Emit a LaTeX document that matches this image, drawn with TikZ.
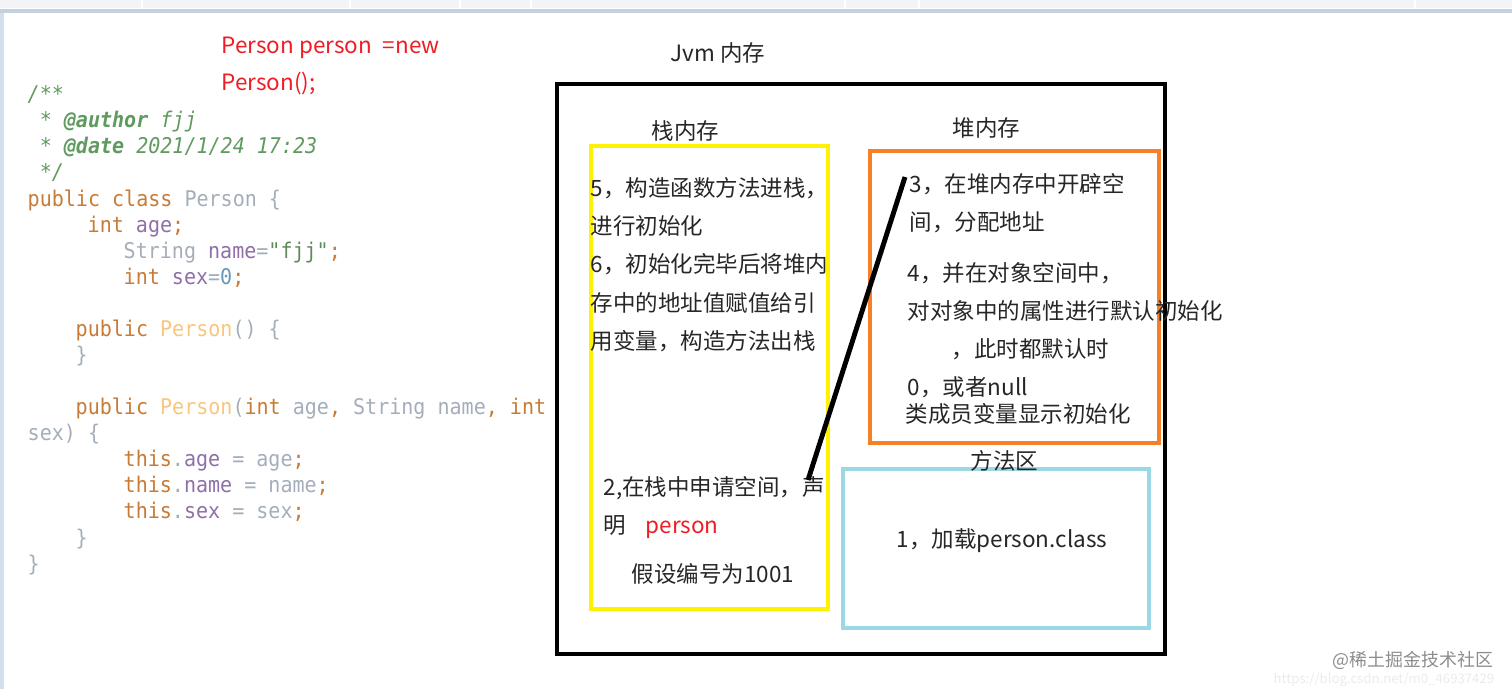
\documentclass[tikz,border=0pt]{standalone}
\usepackage{fontspec}
\setmainfont{Noto Sans CJK SC}
\newfontfamily\codefont[FakeStretch=0.927]{DejaVu Sans Mono}
\definecolor{kwcol}{HTML}{C77B35}
\definecolor{doccol}{HTML}{5F9A5F}
\definecolor{fieldcol}{HTML}{8F6FA8}
\definecolor{plaincol}{HTML}{A4AEBB}
\definecolor{ctorcol}{HTML}{F8C67E}
\definecolor{numcol}{HTML}{6897BB}
\definecolor{strcol}{HTML}{5F8A5A}
\definecolor{redtxt}{HTML}{EE1C25}
\definecolor{stackcol}{HTML}{FFF200}
\definecolor{heapcol}{HTML}{F58027}
\definecolor{methodcol}{HTML}{9AD8E6}
\definecolor{barcol}{HTML}{F3F4F7}
\definecolor{bandcol}{HTML}{C3D1DF}
\definecolor{edgecol}{HTML}{D3DFEC}
\tikzset{
  codeline/.style={anchor=west, inner sep=0pt, yshift=-0.25mm, font=\codefont\fontsize{6.15}{7}\selectfont, text=plaincol, text height=1.6mm, text depth=.5mm},
  note/.style={anchor=west, inner sep=0pt, yshift=-0.1mm, font=\fontsize{6.4}{7.5}\selectfont, text=black!85, text height=1.9mm, text depth=.5mm},
  memory/.style={draw, line width=1.15pt, inner sep=0pt}
}
\newcommand{\kw}[1]{\textcolor{kwcol}{#1}}
\newcommand{\fd}[1]{\textcolor{fieldcol}{#1}}
\begin{document}
\begin{tikzpicture}
    \useasboundingbox (0,0) rectangle (15.12,6.89);

    % Window edges
    \fill[barcol] (0,6.81) rectangle (15.12,6.89);
    \fill[bandcol] (0,6.76) rectangle (15.12,6.80);
    \fill[edgecol] (0,0) rectangle (0.04,6.76);
    \draw[white, line width=.3pt] (1.42,6.81) -- (1.42,6.89) (3.50,6.81) -- (3.50,6.89) (4.60,6.81) -- (4.60,6.89) (5.31,6.81) -- (5.31,6.89) (8.45,6.81) -- (8.45,6.89) (9.19,6.81) -- (9.19,6.89) (14.15,6.81) -- (14.15,6.89);

    % Memory boxes
    \node[memory, draw=black, minimum width=6.08cm, minimum height=5.70cm] (jvmBox) at (8.61,3.20) {};
    \node[memory, draw=stackcol, minimum width=2.37cm, minimum height=4.63cm] (stackBox) at (7.095,3.115) {};
    \node[memory, draw=heapcol, minimum width=2.89cm, minimum height=2.92cm] (heapBox) at (10.145,3.92) {};
    \node[memory, draw=methodcol, minimum width=3.06cm, minimum height=1.59cm] (methodBox) at (9.96,1.405) {};

    % Statement
    \node[note, text=redtxt] (stmtA) at (2.21,6.44) {Person person\hspace{1.6pt} =new};
    \node[note, text=redtxt] (stmtB) at (2.21,6.07) {Person();};

    % Titles
    \node[note] (jvmTitle) at (6.70,6.36) {Jvm 内存};
    \node[note] (stackTitle) at (6.51,5.58) {栈内存};
    \node[note] (heapTitle) at (9.52,5.61) {堆内存};
    \node[note] (methodTitle) at (9.70,2.28) {方法区};

    % Stack memory
    \node[note] (stackA) at (5.90,5.01) {5，构造函数方法进栈，};
    \node[note] (stackB) at (5.90,4.63) {进行初始化};
    \node[note] (stackC) at (5.90,4.25) {6，初始化完毕后将堆内};
    \node[note] (stackD) at (5.90,3.86) {存中的地址值赋值给引};
    \node[note] (stackE) at (5.90,3.48) {用变量，构造方法出栈};
    \node[note] (stackF) at (6.03,2.02) {2,在栈中申请空间，声};
    \node[note] (stackG) at (6.03,1.64) {明};
    \node[note, text=redtxt] (stackName) at (6.45,1.64) {person};
    \node[note] (stackH) at (6.31,1.15) {假设编号为1001};

    % Heap memory
    \node[note] (heapA) at (9.09,5.05) {3，在堆内存中开辟空};
    \node[note] (heapB) at (9.09,4.67) {间，分配地址};
    \node[note] (heapC) at (9.07,4.16) {4，并在对象空间中，};
    \node[note] (heapD) at (9.07,3.78) {对对象中的属性进行默认初始化};
    \node[note] (heapE) at (9.51,3.40) {，此时都默认时};
    \node[note] (heapF) at (9.07,3.02) {0，或者null};
    \node[note] (heapG) at (9.05,2.75) {类成员变量显示初始化};

    % Method area
    \node[note] (methodA) at (8.96,1.50) {1，加载person.class};

    % Reference from stack to heap
    \coordinate (refStack) at (8.08,2.09);
    \coordinate (refHeap) at (9.05,5.12);
    \draw[line width=1.4pt] (refStack) -- (refHeap);

    % Source code
    \node[codeline, text=doccol] (codeA) at (0.27,5.96) {\itshape /**};
    \node[codeline, text=doccol] (codeB) at (0.27,5.70) {\itshape\ * \textbf{@author} fjj};
    \node[codeline, text=doccol] (codeC) at (0.27,5.44) {\itshape\ * \textbf{@date} 2021/1/24 17:23};
    \node[codeline, text=doccol] (codeD) at (0.27,5.18) {\itshape\ */};
    \node[codeline] (codeE) at (0.27,4.91) {\kw{public class} Person \{};
    \node[codeline] (codeF) at (0.87,4.65) {\kw{int} \fd{age}\kw{;}};
    \node[codeline] (codeG) at (1.23,4.39) {String \fd{name}=\textcolor{strcol}{"fjj"}\kw{;}};
    \node[codeline] (codeH) at (1.23,4.13) {\kw{int} \fd{sex}=\textcolor{numcol}{0}\kw{;}};
    \node[codeline] (codeI) at (0.75,3.61) {\kw{public} \textcolor{ctorcol}{Person}() \{};
    \node[codeline] (codeJ) at (0.75,3.35) {\}};
    \node[codeline] (codeK) at (0.75,2.83) {\kw{public} \textcolor{ctorcol}{Person}(\kw{int} age\kw{,} String name\kw{,} \kw{int}};
    \node[codeline] (codeL) at (0.27,2.57) {sex) \{};
    \node[codeline] (codeM) at (1.23,2.31) {\kw{this}.\fd{age} = age\kw{;}};
    \node[codeline] (codeN) at (1.23,2.05) {\kw{this}.\fd{name} = name\kw{;}};
    \node[codeline] (codeO) at (1.23,1.79) {\kw{this}.\fd{sex} = sex\kw{;}};
    \node[codeline] (codeP) at (0.75,1.52) {\}};
    \node[codeline] (codeQ) at (0.27,1.26) {\}};

    % Watermarks
    \node[note, text=black!45, font=\fontsize{5.1}{6}\selectfont] (markA) at (13.32,0.31) {@稀土掘金技术社区};
    \node[note, text=black!8, font=\fontsize{3.75}{5}\selectfont] (markB) at (12.73,0.14) {https://blog.csdn.net/m0\_46937429};
\end{tikzpicture}
\end{document}
